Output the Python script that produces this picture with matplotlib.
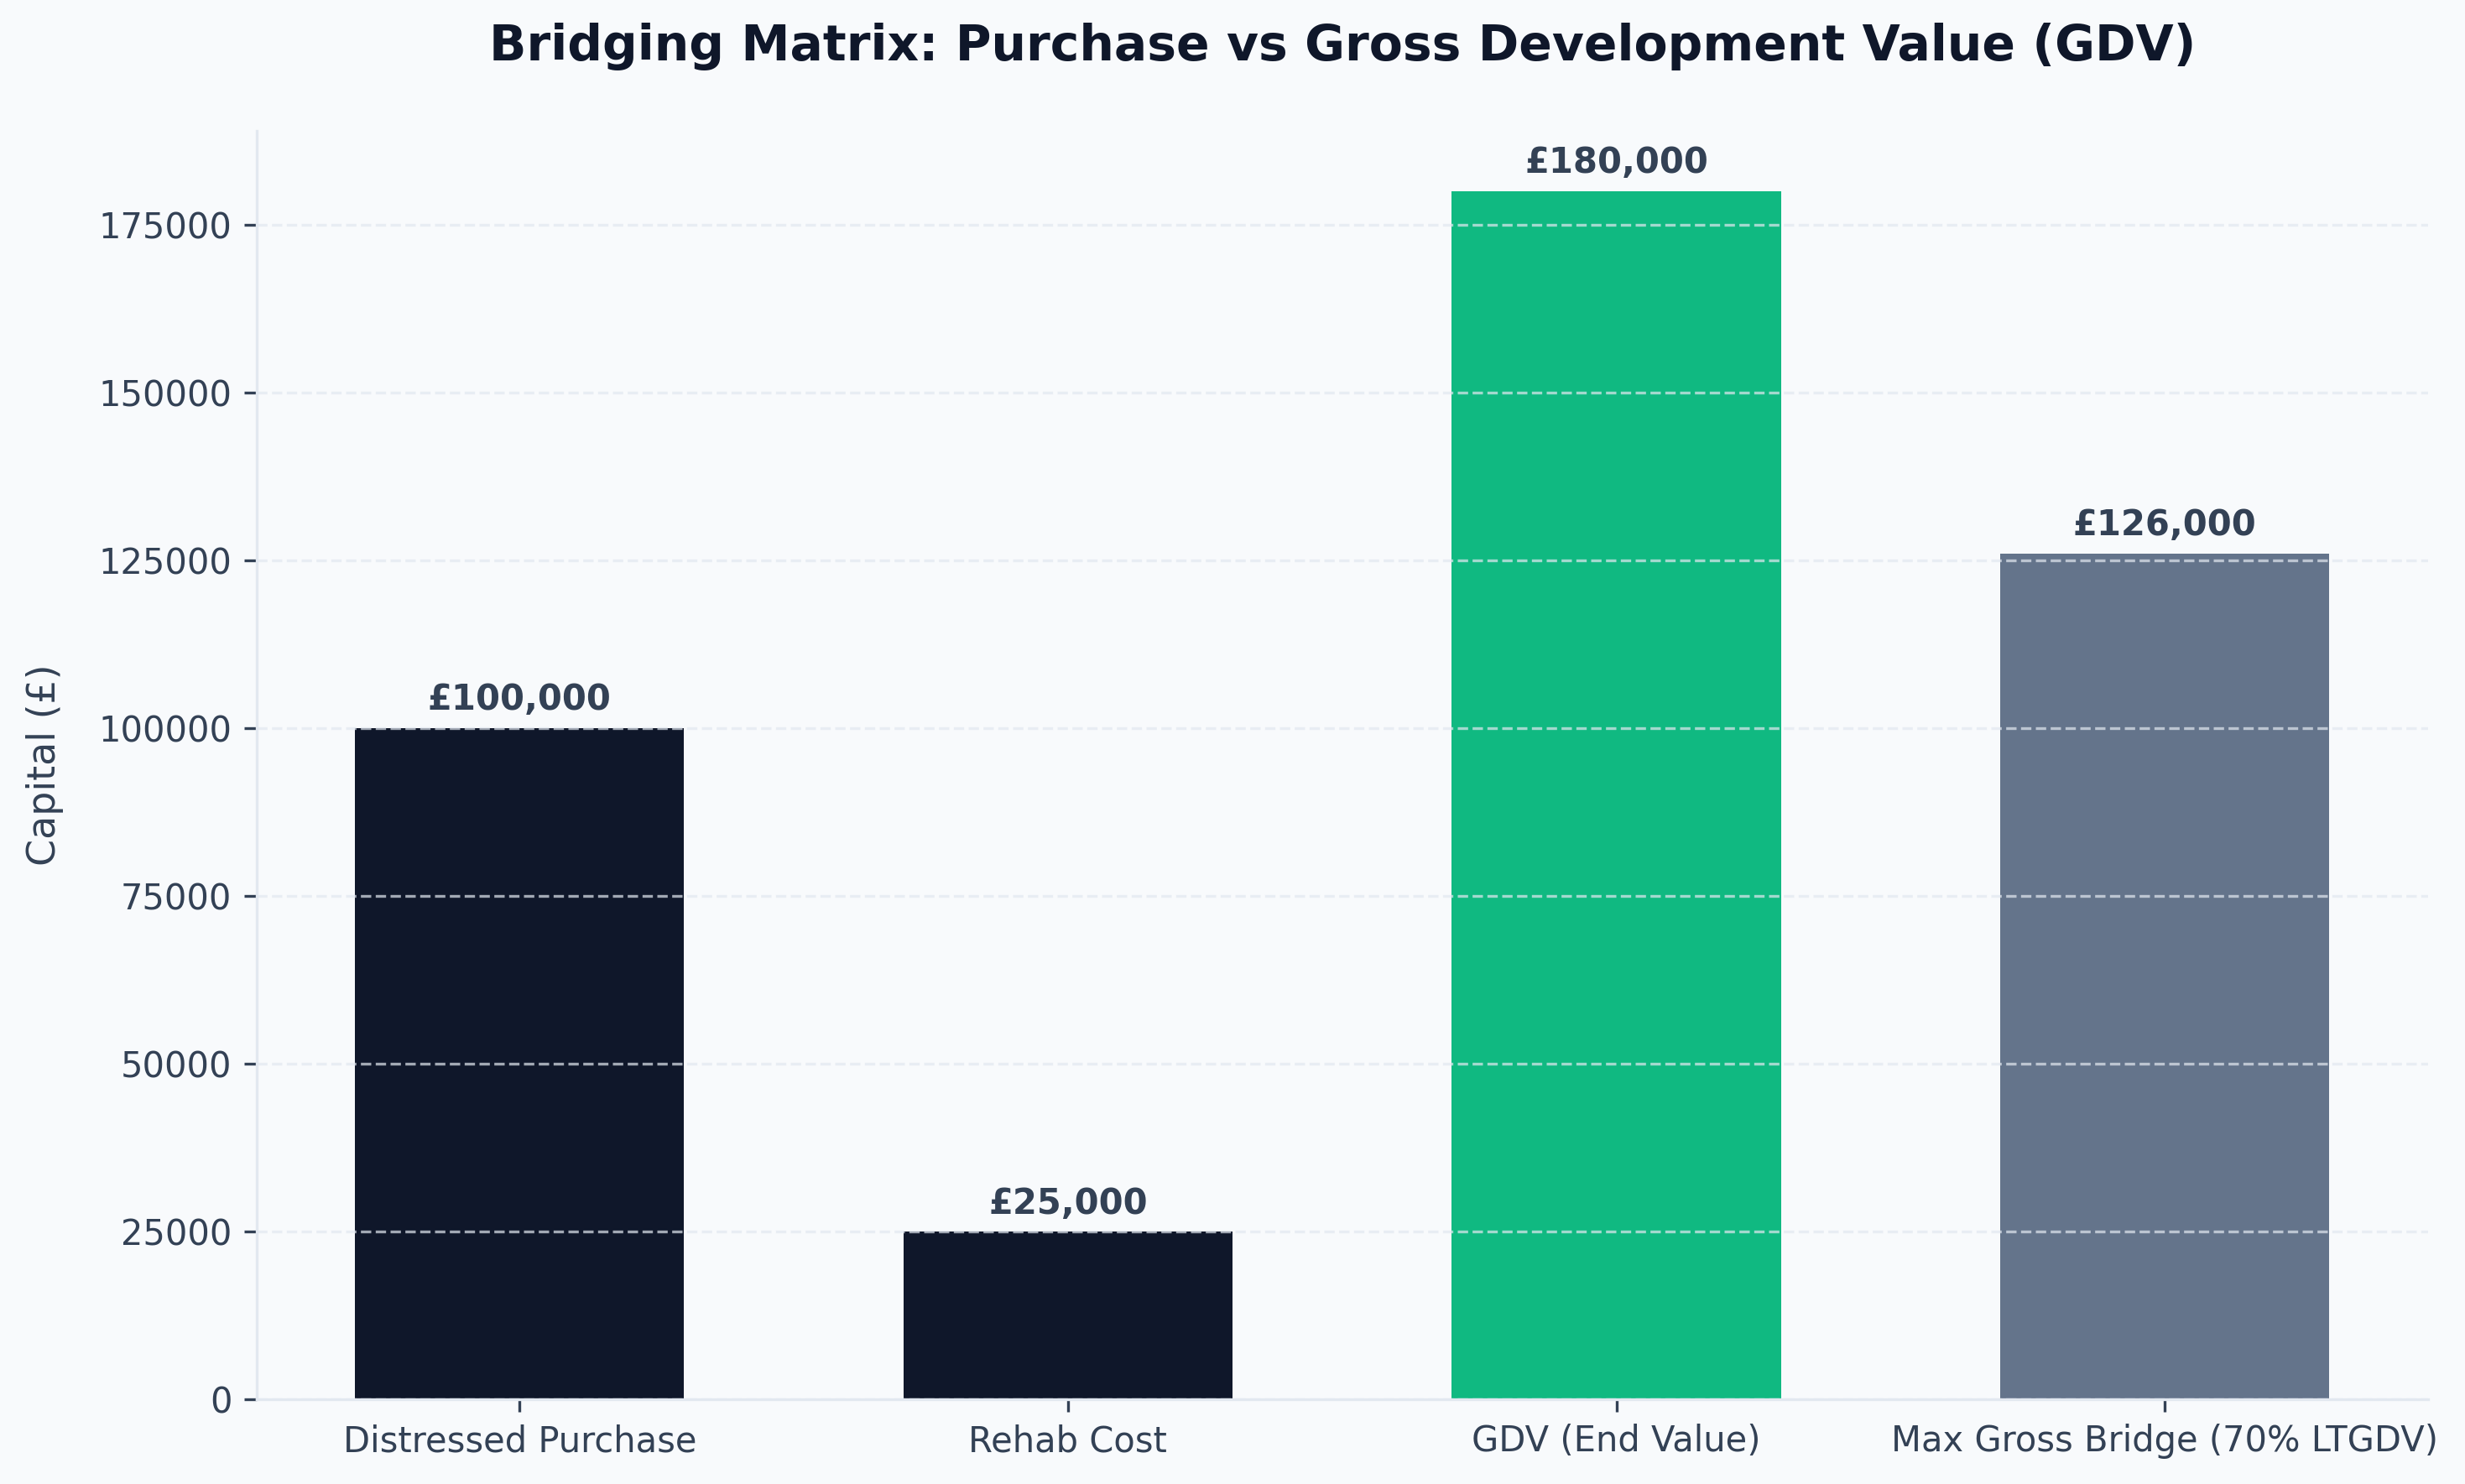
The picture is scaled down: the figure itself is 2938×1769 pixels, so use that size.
import matplotlib
matplotlib.use("Agg")
import matplotlib.pyplot as plt

# Dữ liệu
categories = ["Distressed Purchase", "Rehab Cost", "GDV (End Value)", "Max Gross Bridge (70% LTGDV)"]
values = [100000, 25000, 180000, 126000]
colors = ["#0f172a", "#0f172a", "#10b981", "#64748b"]

fig, ax = plt.subplots(figsize=(2938 / 300, 1769 / 300), dpi=300)
fig.patch.set_facecolor("#f8fafc")
ax.set_facecolor("#f8fafc")
fig.subplots_adjust(left=0.104, right=0.985, top=0.912, bottom=0.057)

bars = ax.bar(categories, values, color=colors, width=0.6)

for b, v in zip(bars, values):
    ax.annotate(f"£{v:,.0f}", (b.get_x() + b.get_width() / 2, v),
                xytext=(0, 3), textcoords="offset points",
                ha="center", va="bottom", fontsize=10, fontweight="bold", color="#334155")

ax.set_ylim(0, max(values) * 1.05)
ax.set_title("Bridging Matrix: Purchase vs Gross Development Value (GDV)",
             fontsize=14, fontweight="bold", color="#0f172a", pad=20)
ax.set_ylabel("Capital (£)", fontsize=11, color="#334155", labelpad=10)

ax.grid(axis="y", linestyle="--", color="#e2e8f0", alpha=0.7)
ax.tick_params(colors="#334155", labelsize=10)
for s in ["top", "right"]:
    ax.spines[s].set_visible(False)
for s in ["left", "bottom"]:
    ax.spines[s].set_color("#e2e8f0")

plt.savefig("out.png", dpi=300, facecolor=fig.get_facecolor())
